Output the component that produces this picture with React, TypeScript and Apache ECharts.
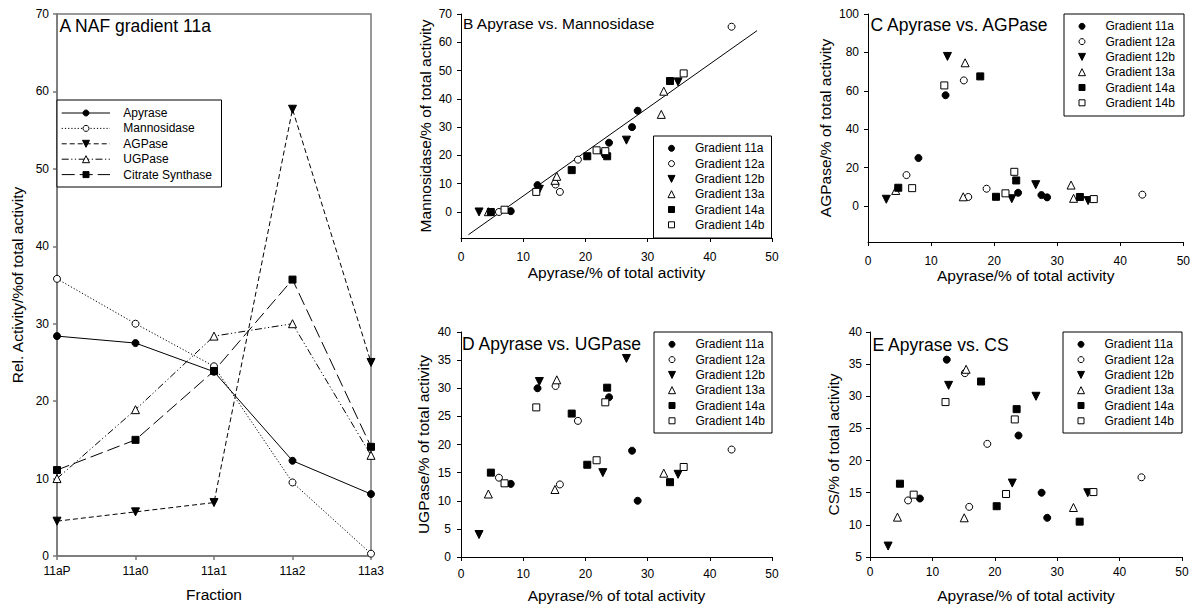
import React, { useEffect, useRef } from 'react';
import * as echarts from 'echarts';

const FONT = '"Liberation Sans", Arial, Helvetica, sans-serif';

// ---------- Panel A: NAF gradient 11a ----------
const fractions = ['11aP', '11a0', '11a1', '11a2', '11a3'];
const apyrase11a = [28.4, 27.5, 23.8, 12.3, 8.0];
const mannosidase11a = [35.8, 30.0, 24.5, 9.5, 0.3];
const agpase11a = [4.5, 5.7, 6.9, 57.7, 25.0];
const ugpase11a = [10.0, 18.9, 28.4, 30.0, 13.0];
const cs11a = [11.1, 15.0, 23.9, 35.7, 14.1];

// ---------- other gradients (apyrase = x in panels B-E) ----------
const apyrase12a = [6.1, 15.2, 15.9, 18.8, 43.5];
const mannosidase12a = [0.0, 9.7, 7.1, 18.5, 65.5];
const agpase12a = [16.1, 65.4, 4.7, 9.0, 5.9];
const ugpase12a = [14.1, 30.4, 12.9, 24.2, 19.1];
const cs12a = [13.8, 33.6, 12.8, 22.6, 17.4];

const apyrase12b = [2.9, 12.6, 22.8, 26.6, 34.9];
const mannosidase12b = [0.0, 8.0, 20.5, 25.4, 46.0];
const agpase12b = [3.5, 77.9, 3.8, 11.1, 2.8];
const ugpase12b = [4.0, 31.2, 15.0, 35.3, 14.7];
const cs12b = [6.7, 31.7, 16.5, 30.0, 15.0];

const apyrase13a = [4.4, 15.1, 15.4, 32.2, 32.6];
const mannosidase13a = [0.1, 11.2, 12.6, 34.5, 42.7];
const agpase13a = [8.1, 4.8, 74.6, 10.9, 4.0];
const ugpase13a = [11.2, 12.0, 31.5, null, 14.9];
const cs13a = [11.2, 11.1, 34.2, null, 12.7];

const apyrase14a = [4.8, 17.8, 20.3, 23.5, 33.6];
const mannosidase14a = [0.0, 14.8, 19.7, 19.7, 46.3];
const agpase14a = [9.5, 67.5, 4.8, 13.3, 4.7];
const ugpase14a = [15.0, 25.5, 16.4, 30.1, 13.3];
const cs14a = [16.4, 32.3, 12.9, 28.0, 10.5];

const apyrase14b = [7.0, 12.1, 21.8, 23.2, 35.8];
const mannosidase14b = [0.8, 7.1, 21.8, 21.5, 49.0];
const agpase14b = [9.3, 62.8, 6.6, 17.8, 3.6];
const ugpase14b = [13.1, 26.6, 17.2, 27.5, 16.0];
const cs14b = [14.7, 29.1, 14.8, 26.4, 15.1];

// regression line in panel B
const fitSlope = 1.555;
const fitIntercept = -9.9;
const fitXRange = [1.2, 47.6];

// tick labels
const yTicksA = [0, 10, 20, 30, 40, 50, 60, 70];
const yTicksB = [0, 10, 20, 30, 40, 50, 60, 70];
const yTicksC = [0, 20, 40, 60, 80, 100];
const xTicksScatter = [0, 10, 20, 30, 40, 50];

const gradientNames = ['Gradient 11a', 'Gradient 12a', 'Gradient 12b', 'Gradient 13a', 'Gradient 14a', 'Gradient 14b'];
const gradientApyrase = [apyrase11a, apyrase12a, apyrase12b, apyrase13a, apyrase14a, apyrase14b];
const gradientMannosidase = [mannosidase11a, mannosidase12a, mannosidase12b, mannosidase13a, mannosidase14a, mannosidase14b];
const gradientAgpase = [agpase11a, agpase12a, agpase12b, agpase13a, agpase14a, agpase14b];
const gradientUgpase = [ugpase11a, ugpase12a, ugpase12b, ugpase13a, ugpase14a, ugpase14b];
const gradientCs = [cs11a, cs12a, cs12b, cs13a, cs14a, cs14b];

// styles (kept separate from data)
const gradientStyles = [
  { symbol: 'circle', fill: '#000', size: 7, rotate: 0 },
  { symbol: 'circle', fill: '#fff', size: 7, rotate: 0 },
  { symbol: 'triangle', fill: '#000', size: 8, rotate: 180 },
  { symbol: 'triangle', fill: '#fff', size: 8, rotate: 0 },
  { symbol: 'rect', fill: '#000', size: 7, rotate: 0 },
  { symbol: 'rect', fill: '#fff', size: 7, rotate: 0 },
];

const lineSeriesA = [
  { name: 'Apyrase', data: apyrase11a, symbol: 'circle', fill: '#000', size: 7, rotate: 0, dash: null as any },
  { name: 'Mannosidase', data: mannosidase11a, symbol: 'circle', fill: '#fff', size: 7, rotate: 0, dash: [1.2, 2] },
  { name: 'AGPase', data: agpase11a, symbol: 'triangle', fill: '#000', size: 8, rotate: 180, dash: [5, 3] },
  { name: 'UGPase', data: ugpase11a, symbol: 'triangle', fill: '#fff', size: 8, rotate: 0, dash: [7, 2.5, 1.2, 2.5, 1.2, 2.5] },
  { name: 'Citrate Synthase', data: cs11a, symbol: 'rect', fill: '#000', size: 7, rotate: 0, dash: [13, 5] },
];

const grids = [
  { left: 57, top: 14, width: 314, height: 543 },
  { left: 461, top: 14, width: 311, height: 224 },
  { left: 868, top: 14, width: 316, height: 228 },
  { left: 461, top: 332, width: 311, height: 225 },
  { left: 870, top: 332, width: 312, height: 225 },
];

const labelStyle = (margin: number) => ({ fontSize: 12, fontFamily: FONT, color: '#000', margin });
const nameStyle = { fontSize: 15.5, fontFamily: FONT, color: '#000' };

function scatterX(gridIndex: number, margin: number, nameGap: number) {
  return {
    type: 'value', gridIndex, min: 0, max: 50, interval: 10,
    name: 'Apyrase/% of total activity', nameLocation: 'middle', nameGap, nameTextStyle: nameStyle,
    axisLine: { show: true, onZero: false, lineStyle: { color: '#000', width: 1 } },
    axisTick: { show: true, length: 4, lineStyle: { color: '#000' }, customValues: xTicksScatter },
    axisLabel: { ...labelStyle(margin), customValues: xTicksScatter },
    splitLine: { show: false },
  };
}

function scatterY(gridIndex: number, min: number, max: number, interval: number, name: string, nameGap: number, margin: number, ticks?: number[]) {
  const ax: any = {
    type: 'value', gridIndex, min, max,
    name, nameLocation: 'middle', nameGap, nameTextStyle: nameStyle,
    axisLine: { show: true, onZero: false, lineStyle: { color: '#000', width: 1 } },
    axisTick: { show: true, length: 4, lineStyle: { color: '#000' } },
    axisLabel: { ...labelStyle(margin) },
    splitLine: { show: false },
  };
  if (ticks) {
    ax.axisTick.customValues = ticks;
    ax.axisLabel.customValues = ticks;
  } else {
    ax.interval = interval;
  }
  return ax;
}

function marker(symbol: string, fill: string, rotate: number, cx: number, cy: number, size: number, z: number) {
  const style = { fill, stroke: '#000', lineWidth: 1 };
  const h = size / 2;
  if (symbol === 'circle') return { type: 'circle', z, shape: { cx, cy, r: h }, style };
  if (symbol === 'rect') return { type: 'rect', z, shape: { x: cx - h, y: cy - h, width: size, height: size }, style };
  const pts = rotate === 180
    ? [[cx - h, cy - h], [cx + h, cy - h], [cx, cy + h]]
    : [[cx, cy - h], [cx + h, cy + h], [cx - h, cy + h]];
  return { type: 'polygon', z, shape: { points: pts }, style };
}

function textEl(text: string, x: number, y: number, size: number, vAlign: string) {
  return {
    type: 'text', z: 5, x, y,
    style: { text, fontSize: size, fontFamily: FONT, fill: '#000', align: 'left', verticalAlign: vAlign },
  };
}

function buildOption() {
  const series: any[] = [];

  lineSeriesA.forEach((s) => {
    series.push({
      type: 'line', name: s.name, xAxisIndex: 0, yAxisIndex: 0, data: s.data,
      symbol: s.symbol, symbolSize: s.size, symbolRotate: s.rotate, showAllSymbol: true,
      itemStyle: { color: s.fill, borderColor: '#000', borderWidth: 1 },
      lineStyle: { color: '#000', width: 1, type: s.dash || 'solid' },
      clip: false,
    });
  });

  const panels = [
    { idx: 1, values: gradientMannosidase },
    { idx: 2, values: gradientAgpase },
    { idx: 3, values: gradientUgpase },
    { idx: 4, values: gradientCs },
  ];
  panels.forEach((p) => {
    gradientNames.forEach((g, gi) => {
      const st = gradientStyles[gi];
      const xs = gradientApyrase[gi];
      const ys = p.values[gi];
      const data = xs.map((x, i) => [x, ys[i]]).filter((d) => d[1] !== null && d[1] !== undefined);
      series.push({
        type: 'scatter', name: g, xAxisIndex: p.idx, yAxisIndex: p.idx, data,
        symbol: st.symbol, symbolSize: st.size, symbolRotate: st.rotate,
        itemStyle: { color: st.fill, borderColor: '#000', borderWidth: 1, opacity: 1 },
        clip: false,
      });
    });
  });

  series.push({
    type: 'line', name: 'fit', xAxisIndex: 1, yAxisIndex: 1,
    data: fitXRange.map((x) => [x, fitSlope * x + fitIntercept]),
    symbol: 'none', lineStyle: { color: '#000', width: 1 }, z: 1,
  });

  const graphic: any[] = [];

  // ---- legend of panel A ----
  const boxA = { x: 57, y: 100, w: 164.5, h: 87 };
  graphic.push({
    type: 'rect', z: 3, shape: { x: boxA.x, y: boxA.y, width: boxA.w, height: boxA.h },
    style: { fill: '#fff', stroke: '#000', lineWidth: 1 },
  });
  lineSeriesA.forEach((s, i) => {
    const cy = 113 + i * 15.4;
    graphic.push({
      type: 'line', z: 4, shape: { x1: 61.7, y1: cy, x2: 110, y2: cy },
      style: { stroke: '#000', lineWidth: 1, lineDash: s.dash || null },
    });
    graphic.push(marker(s.symbol, s.fill, s.rotate, 86, cy, s.size - 1, 5));
    graphic.push(textEl(s.name, 123.3, cy, 12, 'middle'));
  });

  // ---- legends of scatter panels ----
  const boxes = [
    { x: 653.5, y: 136, w: 118, h: 102 },
    { x: 1064, y: 14, w: 120, h: 102 },
    { x: 654, y: 332, w: 118, h: 101 },
    { x: 1063, y: 332, w: 119, h: 101 },
  ];
  boxes.forEach((b) => {
    graphic.push({
      type: 'rect', z: 3, shape: { x: b.x, y: b.y, width: b.w, height: b.h },
      style: { fill: '#fff', stroke: '#000', lineWidth: 1 },
    });
    gradientNames.forEach((g, gi) => {
      const st = gradientStyles[gi];
      const cy = b.y + 12.3 + gi * 15.3;
      graphic.push(marker(st.symbol, st.fill, st.rotate, b.x + 18, cy, st.symbol === 'triangle' ? 7 : 6, 5));
      graphic.push(textEl(g, b.x + 41.5, cy, 12, 'middle'));
    });
  });

  // ---- panel titles ----
  const titles = [
    { text: 'A NAF gradient 11a', x: 59.5, y: 16.5, size: 17.5 },
    { text: 'B Apyrase vs. Mannosidase', x: 463, y: 15.5, size: 15.5 },
    { text: 'C Apyrase vs. AGPase', x: 870.5, y: 15.5, size: 17.5 },
    { text: 'D Apyrase vs. UGPase', x: 462, y: 334.5, size: 17.5 },
    { text: 'E Apyrase vs. CS', x: 872.5, y: 335.5, size: 17.5 },
  ];
  titles.forEach((t) => {
    graphic.push(textEl(t.text, t.x, t.y, t.size, 'top'));
  });

  const grayAxis = '#777';

  return {
    animation: false,
    backgroundColor: '#fff',
    grid: grids.map((g, i) => ({
      ...g,
      containLabel: false,
      show: i === 0,
      borderColor: grayAxis,
      borderWidth: 1.5,
      backgroundColor: 'transparent',
    })),
    xAxis: [
      {
        type: 'category', gridIndex: 0, data: fractions, boundaryGap: false,
        name: 'Fraction', nameLocation: 'middle', nameGap: 30, nameTextStyle: nameStyle,
        axisLine: { show: true, onZero: false, lineStyle: { color: grayAxis, width: 1.5 } },
        axisTick: { show: true, length: 4, lineStyle: { color: grayAxis, width: 1.5 } },
        axisLabel: { ...labelStyle(9), interval: 0 },
        splitLine: { show: false },
      },
      scatterX(1, 13, 26),
      scatterX(2, 13, 24),
      scatterX(3, 11, 30),
      scatterX(4, 9, 30),
    ],
    yAxis: [
      {
        type: 'value', gridIndex: 0, min: 0, max: 70, interval: 10,
        name: 'Rel. Activity/%of total activity', nameLocation: 'middle', nameGap: 32, nameTextStyle: nameStyle,
        axisLine: { show: true, onZero: false, lineStyle: { color: grayAxis, width: 1.5 } },
        axisTick: { show: true, length: 4, lineStyle: { color: grayAxis, width: 1.5 }, customValues: yTicksA },
        axisLabel: { ...labelStyle(8), customValues: yTicksA },
        splitLine: { show: false },
      },
      scatterY(1, -9.2, 70, 10, 'Mannosidase/% of total activity', 28, 9, yTicksB),
      scatterY(2, -18.75, 100, 20, 'AGPase/% of total activity', 35, 9, yTicksC),
      scatterY(3, 0, 40, 5, 'UGPase/% of total activity', 30, 10),
      scatterY(4, 5, 40, 5, 'CS/% of total activity', 29, 8),
    ],
    graphic,
    series,
  };
}

export default function App() {
  const ref = useRef<HTMLDivElement>(null);
  useEffect(() => {
    if (!ref.current) return;
    const chart = echarts.init(ref.current, undefined, { renderer: 'svg' });
    chart.setOption(buildOption() as any);
    return () => {
      chart.dispose();
    };
  }, []);
  return (
    <div
      ref={ref}
      style={{ position: 'fixed', left: 0, top: 0, width: 1193, height: 607, background: '#fff' }}
    />
  );
}
